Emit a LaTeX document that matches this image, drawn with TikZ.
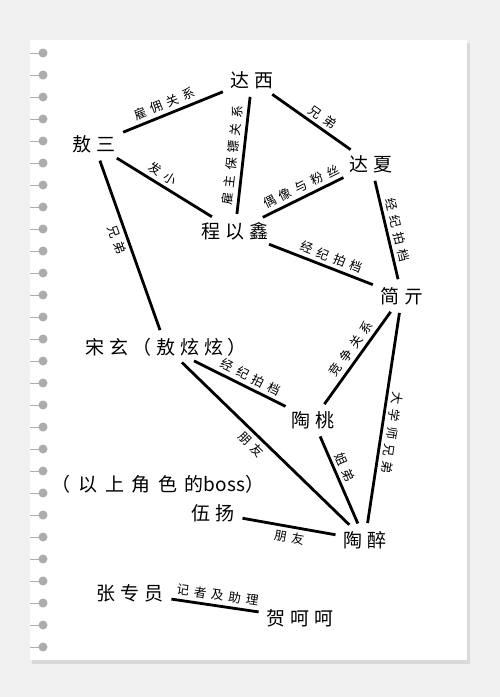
\documentclass[tikz,border=0pt]{standalone}
\usepackage{fontspec}
\setmainfont{Noto Sans CJK SC}
\newfontfamily\namefont[LetterSpace=25]{Noto Sans CJK SC}
\newfontfamily\bossfont[LetterSpace=40]{Noto Sans CJK SC}
\newfontfamily\relfont[LetterSpace=40]{Noto Sans CJK SC}
\begin{document}
\begin{tikzpicture}[x=1pt, y=-1pt,
		person/.style={font=\namefont\fontsize{19}{19}\selectfont, inner sep=2pt},
		bossnote/.style={font=\bossfont\fontsize{19}{19}\selectfont, inner sep=2pt},
		rel/.style={line width=2.8pt, shorten <=6pt, shorten >=6pt},
		lbl/.style={font=\relfont\fontsize{12.5}{12.5}\selectfont, sloped, inner sep=3.5pt},
	]
	\useasboundingbox (0,0) rectangle (500,697);
	\fill[gray!12] (0,0) rectangle (500,697);
	\fill[gray!30] (32,43) rectangle (470,664);
	\fill[white] (30,40) rectangle (467,660);
	\foreach \y in {53,75,...,647} {
		\draw[gray!65, line width=1pt] (30,\y) -- (43,\y);
		\fill[gray!65] (43,\y) circle[radius=4.5pt];
	}

	\node[person] (daxi) at (252,80) {达西};
	\node[person] (aosan) at (94,144) {敖三};
	\node[person] (daxia) at (371,164) {达夏};
	\node[person] (chengyixin) at (235,231) {程以鑫};
	\node[person] (jianqi) at (402,296) {简亓};
	\node[person] (songxuan) at (166,347) {宋玄（敖炫炫）};
	\node[person] (taotao) at (313,420) {陶桃};
	\node[bossnote] (boss) at (158,484) {（以上角色的{\rmfamily boss}）};
	\node[person] (wuyang) at (213,513) {伍扬};
	\node[person] (taozui) at (365,540) {陶醉};
	\node[person] (zhang) at (130,593) {张专员};
	\node[person] (hehehe) at (300,618) {贺呵呵};

	\draw[rel] (aosan) -- node[lbl, above, pos=0.46] {雇佣关系} (daxi);
	\draw[rel] (daxi) -- node[lbl, above, pos=0.51] {雇主保镖关系} (chengyixin);
	\draw[rel] (daxi) -- node[lbl, above, pos=0.56] {兄弟} (daxia);
	\draw[rel] (aosan) -- node[lbl, above, pos=0.43] {发小} (chengyixin);
	\draw[rel] (aosan) -- node[lbl, below, pos=0.45] {兄弟} (songxuan);
	\draw[rel] (chengyixin) -- node[lbl, above, pos=0.53] {偶像与粉丝} (daxia);
	\draw[rel] (daxia) -- node[lbl, above, pos=0.52] {经纪拍档} (jianqi);
	\draw[rel] (chengyixin) -- node[lbl, above, pos=0.56] {经纪拍档} (jianqi);
	\draw[rel] (jianqi) -- node[lbl, above, pos=0.47] {竞争关系} (taotao);
	\draw[rel, allow upside down] (jianqi) -- node[lbl, above, pos=0.56] {大学师兄弟} (taozui);
	\draw[rel] (songxuan) -- node[lbl, above, pos=0.56] {经纪拍档} (taotao);
	\draw[rel] (songxuan) -- node[lbl, below, pos=0.46] {朋友} (taozui);
	\draw[rel] (taotao) -- node[lbl, above, pos=0.41] {姐弟} (taozui);
	\draw[rel] (wuyang) -- node[lbl, below, pos=0.52] {朋友} (taozui);
	\draw[rel] (zhang) -- node[lbl, above, pos=0.51] {记者及助理} (hehehe);

\end{tikzpicture}
\end{document}
